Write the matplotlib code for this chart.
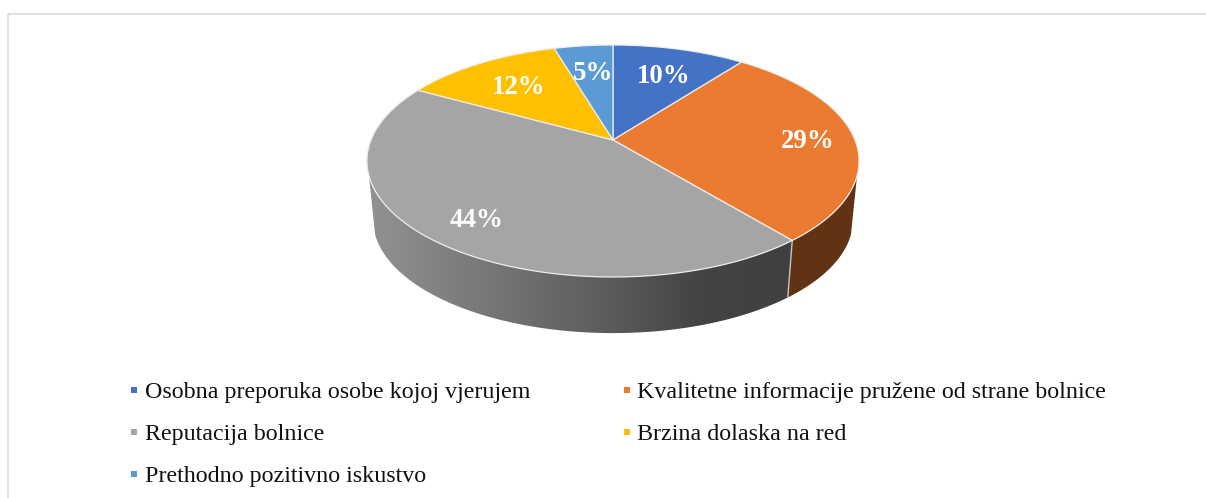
import numpy as np
import matplotlib
matplotlib.use("Agg")
import matplotlib.pyplot as plt
from matplotlib.colors import LinearSegmentedColormap
from matplotlib.patches import Polygon

categories = ['Osobna preporuka osobe kojoj vjerujem',
              'Kvalitetne informacije pružene od strane bolnice',
              'Reputacija bolnice',
              'Brzina dolaska na red',
              'Prethodno pozitivno iskustvo']
values = [10.4, 28.6, 44, 12.4, 4.6]
colors = ['#4472C4', '#EA7B30', '#A5A5A5', '#FFC000', '#5B9BD5']
label_r = [0.7, 0.8, 0.8, 0.7, 0.7]

# tilted pie: circle -> image through a perspective map, everything in pixels
CX, CY = 613, 161
A, B, C, P = 242, 116, 21, 0.181


def project(phi, r=1.0):
    # phi is degrees clockwise from 12 o'clock
    u = r * np.sin(np.radians(phi))
    v = r * np.cos(np.radians(phi))
    w = 1 + P * v
    return CX + A * u / w, CY - (B * v + C) / w


def rim(a, b, scale=1.0, dy=0):
    x, y = project(np.linspace(a, b, 120))
    return np.column_stack([CX + (x - CX) * scale, CY + (y - CY) * scale + dy])


plt.rcParams['font.family'] = ['Liberation Serif', 'DejaVu Serif']
fig = plt.figure(figsize=(12.06, 4.98), dpi=100)
ax = fig.add_axes([0, 0, 1, 1])

# side walls
grey_map = LinearSegmentedColormap.from_list(
    'wall', [(0, '#929292'), (0.2, '#7f7f7f'), (0.55, '#5d5d5d'), (0.78, '#444444'), (1, '#404040')])
wall_l, wall_r = 252.4, 107.6
bound = 360 * values[0] / 100 + 360 * values[1] / 100

grey_top = rim(bound, wall_l)
grey_bottom = rim(bound, wall_l, 0.975, 59)
grey_wall = Polygon(np.vstack([grey_top, grey_bottom[::-1]]), fc='none', ec='none')
ax.add_patch(grey_wall)
grad = ax.imshow(np.linspace(0, 1, 256)[None, :], cmap=grey_map, aspect='auto',
                 extent=(367, 792, 340, 160), zorder=1)
grad.set_clip_path(grey_wall)

or_top = rim(wall_r, bound)
or_bottom = rim(wall_r, bound, 0.975, 59)
ax.add_patch(Polygon(np.vstack([or_top, or_bottom[::-1]]), fc='#603314', ec='none', zorder=1))
ax.plot([grey_top[0, 0], grey_bottom[0, 0]], [grey_top[0, 1], grey_bottom[0, 1]],
        color='#c4c4c4', lw=1, zorder=2)

# top face
start = 0
for val, col, r, in zip(values, colors, label_r):
    end = start + 360 * val / 100
    pts = np.vstack([[project(0, 0)], rim(start, end)])
    ax.add_patch(Polygon(pts, fc=col, ec='#ececec', lw=0.9, joinstyle='round', zorder=3))
    lx, ly = project((start + end) / 2, r)
    ax.text(lx + 2, ly + 3, f'{val:.0f}%', color='white', fontsize=19.4, fontweight='bold',
            ha='center', va='center', zorder=4)
    start = end

# legend, filled row by row
leg_x = [134, 627]
leg_text_x = [145, 637]
leg_y = [390, 432, 474]
for i, (name, col) in enumerate(zip(categories, colors)):
    y = leg_y[i // 2]
    ax.plot(leg_x[i % 2], y, 's', color=col, ms=4.4, mew=0)
    ax.text(leg_text_x[i % 2], y + 7.5, name, fontsize=17.25, color='#111111', ha='left', va='baseline')

# chart frame
ax.plot([8, 8, 1206], [498, 13.5, 13.5], color='#d9d9d9', lw=1.2)

ax.set_xlim(0, 1206)
ax.set_ylim(498, 0)
ax.axis('off')
fig.savefig('out.png', dpi=100, facecolor='white')
